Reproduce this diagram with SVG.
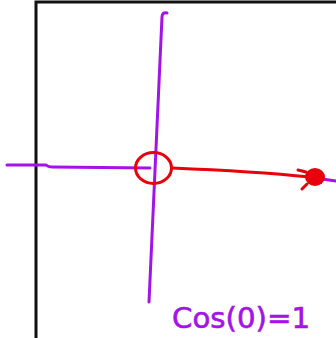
<svg xmlns="http://www.w3.org/2000/svg" width="336" height="338" viewBox="0 0 336 338">
<style>
.frame{fill:none;stroke:#111;stroke-width:3}
.axis{fill:none;stroke:#a412e8;stroke-width:3;stroke-linecap:round;stroke-linejoin:round}
.red{fill:none;stroke:#e8000a;stroke-width:3;stroke-linecap:round;stroke-linejoin:round}
.lbl{font-family:"DejaVu Sans","Liberation Sans",sans-serif;font-size:28px;fill:#a412e8;stroke:#a412e8;stroke-width:0.6}
</style>
<rect width="336" height="338" fill="#fff"/>
<g id="frame">
<path class="frame" d="M36,338 V2 H336"/>
</g>
<g id="axes">
<path class="axis" d="M167,13 Q162,12 162,17 L149,302"/>
<path class="axis" d="M7,165 L46,165 Q48,167 52,167 L150,168"/>
<path class="axis" d="M322,179 L336,181"/>
</g>
<g id="connectors">
<path class="red" d="M172,168 C220,170 270,173 310,177"/>
<path class="red" d="M298,170 L306,172 M302,189 L307,184"/>
</g>
<g id="origin">
<ellipse class="red" cx="153.5" cy="168" rx="18" ry="15.5"/>
</g>
<g id="point">
<ellipse cx="315" cy="177" rx="10" ry="9" fill="#e8000a"/>
</g>
<g id="label">
<text class="lbl" x="172" y="328" textLength="138" lengthAdjust="spacingAndGlyphs">Cos(0)=1</text>
</g>
</svg>
